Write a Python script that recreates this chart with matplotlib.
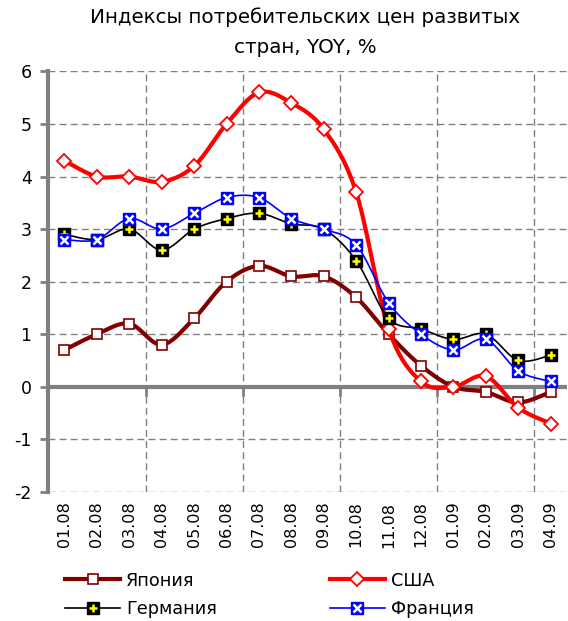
import numpy as np
import matplotlib.pyplot as plt
from matplotlib.lines import Line2D

plt.rcParams['font.family'] = ['DejaVu Sans']
plt.rcParams['axes.unicode_minus'] = False

# Data
months = ['01.08', '02.08', '03.08', '04.08', '05.08', '06.08', '07.08', '08.08',
          '09.08', '10.08', '11.08', '12.08', '01.09', '02.09', '03.09', '04.09']
japan = [0.7, 1.0, 1.2, 0.8, 1.3, 2.0, 2.3, 2.1, 2.1, 1.7, 1.0, 0.4, 0.0, -0.1, -0.3, -0.1]
usa = [4.3, 4.0, 4.0, 3.9, 4.2, 5.0, 5.6, 5.4, 4.9, 3.7, 1.1, 0.1, 0.0, 0.2, -0.4, -0.7]
germany = [2.9, 2.8, 3.0, 2.6, 3.0, 3.2, 3.3, 3.1, 3.0, 2.4, 1.3, 1.1, 0.9, 1.0, 0.5, 0.6]
france = [2.8, 2.8, 3.2, 3.0, 3.3, 3.6, 3.6, 3.2, 3.0, 2.7, 1.6, 1.0, 0.7, 0.9, 0.3, 0.1]
labels = ['Япония', 'США', 'Германия', 'Франция']
yticks = [-2, -1, 0, 1, 2, 3, 4, 5, 6]


def smooth(vals, n=20):
    # Excel-like smoothed line through the points (bezier, 1/6 tangent)
    pts = np.column_stack([np.arange(len(vals)), np.asarray(vals, float)])
    pad = np.vstack([pts[0], pts, pts[-1]])
    t = np.linspace(0, 1, n)[:, None]
    out = []
    for i in range(len(pts) - 1):
        p0, p1, p2, p3 = pad[i], pad[i + 1], pad[i + 2], pad[i + 3]
        c1 = p1 + (p2 - p0) / 6
        c2 = p2 - (p3 - p1) / 6
        seg = (1 - t)**3 * p1 + 3 * (1 - t)**2 * t * c1 + 3 * (1 - t) * t**2 * c2 + t**3 * p2
        out.append(seg if i == 0 else seg[1:])
    s = np.vstack(out)
    return s[:, 0], s[:, 1]


fig = plt.figure(figsize=(5.68, 6.21), dpi=100)
ax = fig.add_axes([0.085, 0.208, 0.913, 0.677])
x = np.arange(len(months))
grey = '#808080'

# grid
for yv in yticks:
    if yv != 0:
        ax.axhline(yv, color=grey, lw=1, ls=(0, (5, 3)), zorder=0)
for xv in np.arange(2.5, len(months), 3):
    ax.axvline(xv, color=grey, lw=1, ls=(0, (5, 3)), zorder=0)
ax.axhline(0, color=grey, lw=3, zorder=1)
for xv in np.arange(2.5, len(months), 3):
    ax.plot([xv, xv], [0, -0.15], color=grey, lw=2, zorder=1)

handles = []

# Япония
sx, sy = smooth(japan)
ax.plot(sx, sy, color='#800000', lw=3, zorder=2)
ax.plot(x, japan, ls='none', marker='s', ms=6.5, mfc='white', mec='#800000', mew=1.2, zorder=3)
handles.append((Line2D([], [], color='#800000', lw=3),
                Line2D([], [], ls='none', marker='s', ms=6.5, mfc='white', mec='#800000', mew=1.2)))

# США
sx, sy = smooth(usa)
ax.plot(sx, sy, color='#ff0000', lw=3, zorder=4)
ax.plot(x, usa, ls='none', marker='D', ms=7, mfc='white', mec='#ff0000', mew=1.3, zorder=5)
handles.append((Line2D([], [], color='#ff0000', lw=3),
                Line2D([], [], ls='none', marker='D', ms=7, mfc='white', mec='#ff0000', mew=1.3)))

# Германия
sx, sy = smooth(germany)
ax.plot(sx, sy, color='black', lw=1.2, zorder=6)
ax.plot(x, germany, ls='none', marker='s', ms=8, mfc='black', mec='black', zorder=7)
ax.plot(x, germany, ls='none', marker='+', ms=6, mec='#ffff00', mew=1.8, zorder=8)
handles.append((Line2D([], [], color='black', lw=1.2),
                Line2D([], [], ls='none', marker='s', ms=8, mfc='black', mec='black'),
                Line2D([], [], ls='none', marker='+', ms=6, mec='#ffff00', mew=1.8)))

# Франция
sx, sy = smooth(france)
ax.plot(sx, sy, color='#0000ff', lw=1.2, zorder=9)
ax.plot(x, france, ls='none', marker='s', ms=8, mfc='#0000ff', mec='#0000ff', zorder=10)
ax.plot(x, france, ls='none', marker='x', ms=5.5, mec='white', mew=1.8, zorder=11)
handles.append((Line2D([], [], color='#0000ff', lw=1.2),
                Line2D([], [], ls='none', marker='s', ms=8, mfc='#0000ff', mec='#0000ff'),
                Line2D([], [], ls='none', marker='x', ms=5.5, mec='white', mew=1.8)))

ax.set_xlim(-0.5, len(months) - 0.5)
ax.set_ylim(-2, 6)
ax.set_yticks(yticks)
ax.set_xticks(x)
ax.set_xticklabels(months, rotation=90, fontsize=11.5)
ax.tick_params(axis='x', length=0, pad=7)
ax.tick_params(axis='y', length=6, width=2, color=grey, labelsize=12.5, pad=6)
for s in ['top', 'right', 'bottom']:
    ax.spines[s].set_visible(False)
ax.spines['left'].set_color(grey)
ax.spines['left'].set_linewidth(3)

fig.text(0.537, 0.988, 'Индексы потребительских цен развитых\nстран, YOY, %',
         ha='center', va='top', fontsize=14.3, linespacing=1.75)

# legend filled row by row like the original
order = [0, 2, 1, 3]
fig.legend([handles[i] for i in order], [labels[i] for i in order],
           ncol=2, loc='lower left', bbox_to_anchor=(0.087, -0.021), frameon=False,
           fontsize=12.7, handlelength=3.1, columnspacing=6.4, handletextpad=0.35,
           labelspacing=0.6)

fig.savefig('out.png', dpi=100)
